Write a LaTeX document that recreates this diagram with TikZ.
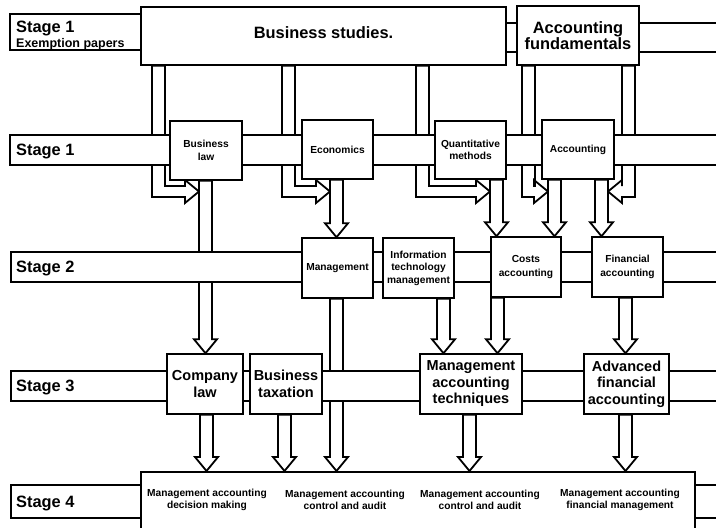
\documentclass[tikz,border=0pt]{standalone}
\usepackage{fontspec}
\setmainfont{Liberation Sans}
\usetikzlibrary{calc}

% type sizes
\newcommand\fsmall{\bfseries\fontsize{10.2}{12.5}\selectfont}
\newcommand\fmid{\bfseries\fontsize{14.5}{16.5}\selectfont}
\newcommand\fbig{\bfseries\fontsize{16.4}{17}\selectfont}
\newcommand\fexempt{\bfseries\fontsize{12.5}{14}\selectfont}

% hollow pipe from the bottom of one box straight down into the top of another
% #1 left edge of the pipe, #2 box it leaves, #3 box it enters
\newcommand\downpipe[3]{%
  \draw[pipe] let \p1=(#2.south), \p2=(#3.north) in
    (#1pt,\y1) -- (#1pt,\y2+14pt) -- (#1pt-5pt,\y2+14pt) -- (#1pt+6.5pt,\y2)
    -- (#1pt+18pt,\y2+14pt) -- (#1pt+13pt,\y2+14pt) -- (#1pt+13pt,\y1) -- cycle;}

% hollow pipe that leaves a box downwards and turns right into another pipe
% #1 left edge of the pipe, #2 box it leaves, #3 x of the arrow tip
\newcommand\elbowright[3]{%
  \draw[pipe] let \p1=(#2.south) in
    (#1pt,\y1) -- (#1pt,-197pt) -- (#3pt-14pt,-197pt) -- (#3pt-14pt,-203pt)
    -- (#3pt,-191.5pt) -- (#3pt-14pt,-180pt) -- (#3pt-14pt,-186pt)
    -- (#1pt+13pt,-186pt) -- (#1pt+13pt,\y1) -- cycle;}

% the same, turning left
\newcommand\elbowleft[3]{%
  \draw[pipe] let \p1=(#2.south) in
    (#1pt+13pt,\y1) -- (#1pt+13pt,-197pt) -- (#3pt+14pt,-197pt) -- (#3pt+14pt,-203pt)
    -- (#3pt,-191.5pt) -- (#3pt+14pt,-180pt) -- (#3pt+14pt,-186pt)
    -- (#1pt,-186pt) -- (#1pt,\y1) -- cycle;}

\begin{document}
\begin{tikzpicture}[x=1pt,y=-1pt,
  outline/.style={draw=black, line width=1.5pt, fill=white},
  band/.style={outline},
  box/.style={outline, inner sep=0pt, align=center},
  pipe/.style={draw=black, line width=1.8pt, fill=white, line join=miter},
  stagelbl/.style={anchor=base west, inner sep=0pt, font=\fbig},
  unit/.style={inner sep=0pt, align=center, font=\fsmall}]

\useasboundingbox (0,0) rectangle (716,528);
\clip (0,0) rectangle (716,528);

% ---------- boxes (placed first so the pipes can refer to them) ----------
\path
  node[box, minimum width=365pt, minimum height=58pt] (bs) at (323.5,36) {}
  node[box, minimum width=122pt, minimum height=59pt] (af) at (578,35.5) {}
  node[box, minimum width=72pt, minimum height=59pt] (bl) at (206,150.5) {}
  node[box, minimum width=71pt, minimum height=59pt] (ec) at (337.5,149.5) {}
  node[box, minimum width=71pt, minimum height=58pt] (qm) at (470.5,150) {}
  node[box, minimum width=72pt, minimum height=59pt] (ac) at (578,149.5) {}
  node[box, minimum width=71pt, minimum height=60pt] (mg) at (337.5,268) {}
  node[box, minimum width=71pt, minimum height=60pt] (it) at (418.5,268) {}
  node[box, minimum width=70pt, minimum height=60pt] (ca) at (526,267) {}
  node[box, minimum width=71pt, minimum height=60pt] (fa) at (627.5,267) {}
  node[box, minimum width=76pt, minimum height=60pt] (cl) at (205,384) {}
  node[box, minimum width=72pt, minimum height=60pt] (bt) at (286,384) {}
  node[box, minimum width=102pt, minimum height=60pt] (mat) at (471,384) {}
  node[box, minimum width=85pt, minimum height=60pt] (afa) at (626.5,384) {}
  node[box, minimum width=554pt, minimum height=90pt, anchor=north west] (s4) at (140,471) {};

% ---------- pipes ----------
% exemption papers into the first stage
\elbowright{152}{bs}{199}
\elbowright{282}{bs}{330}
\elbowright{416}{bs}{490}
\elbowright{522}{af}{548}
\elbowleft{622}{af}{608}

% stage 1 onwards
\downpipe{199}{bl}{cl}
\downpipe{330}{ec}{mg}
\downpipe{490}{qm}{ca}
\downpipe{548}{ac}{ca}
\downpipe{595}{ac}{fa}

% stage 2 onwards
\downpipe{330}{mg}{s4}
\downpipe{437}{it}{mat}
\downpipe{491}{ca}{mat}
\downpipe{619}{fa}{afa}

% stage 3 onwards
\downpipe{200}{cl}{s4}
\downpipe{278}{bt}{s4}
\downpipe{463}{mat}{s4}
\downpipe{619}{afa}{s4}

% ---------- stage bands ----------
\draw[band] (10,14) rectangle (160,50);
\draw[band] (500,23) rectangle (730,52);
\draw[band] (10,135) rectangle (730,165);
\draw[band] (11,252) rectangle (730,282);
\draw[band] (11,371) rectangle (730,401);
\draw[band] (11,485) rectangle (730,518);

% ---------- boxes drawn over the bands ----------
\node[box, minimum width=365pt, minimum height=58pt] at (bs) {};
\node[inner sep=0pt, font=\fbig] (bst) at ([yshift=3.5pt]bs.center) {Business studies.};
\node[box, font=\fbig, minimum width=122pt, minimum height=59pt] at (af) {Accounting\\[-1pt]fundamentals};
\node[box, font=\fsmall, minimum width=72pt, minimum height=59pt] at (bl) {Business\\law};
\node[box, font=\fsmall, minimum width=71pt, minimum height=59pt] at (ec) {Economics};
\node[box, font=\fsmall, minimum width=71pt, minimum height=58pt] at (qm) {Quantitative\\methods};
\node[box, font=\fsmall, minimum width=72pt, minimum height=59pt] at (ac) {Accounting};
\node[box, font=\fsmall, minimum width=71pt, minimum height=60pt] at (mg) {Management};
\node[box, font=\fsmall, minimum width=71pt, minimum height=60pt] at (it) {Information\\technology\\management};
\node[box, font=\fsmall, minimum width=70pt, minimum height=60pt] at (ca) {Costs\\[1pt]accounting};
\node[box, font=\fsmall, minimum width=71pt, minimum height=60pt] at (fa) {Financial\\[1pt]accounting};
\node[box, font=\fmid, minimum width=76pt, minimum height=60pt] at (cl) {Company\\law};
\node[box, font=\fmid, minimum width=72pt, minimum height=60pt] at (bt) {Business\\taxation};
\node[box, font=\fmid, minimum width=102pt, minimum height=60pt] at (mat) {Management\\accounting\\techniques};
\node[box, font=\fmid, minimum width=85pt, minimum height=60pt] at (afa) {Advanced\\financial\\accounting};
\node[box, minimum width=554pt, minimum height=90pt, anchor=north west] at (140,471) {};

% ---------- stage labels ----------
\node[stagelbl] (l0) at (16,32.3) {Stage 1};
\node[stagelbl, font=\fexempt] (l0b) at (16,47.3) {Exemption papers};
\node[stagelbl] (l1) at (16,155.8) {Stage 1};
\node[stagelbl] (l2) at (16,272.8) {Stage 2};
\node[stagelbl] (l3) at (16,391.8) {Stage 3};
\node[stagelbl] (l4) at (16,507.3) {Stage 4};

% ---------- stage 4 papers ----------
\node[unit] (p1) at (207,500) {Management accounting\\decision making};
\node[unit] (p2) at (345,500) {Management accounting\\control and audit};
\node[unit] (p3) at (480,500) {Management accounting\\control and audit};
\node[unit] (p4) at (620,500) {Management accounting\\financial management};
\end{tikzpicture}
\end{document}
